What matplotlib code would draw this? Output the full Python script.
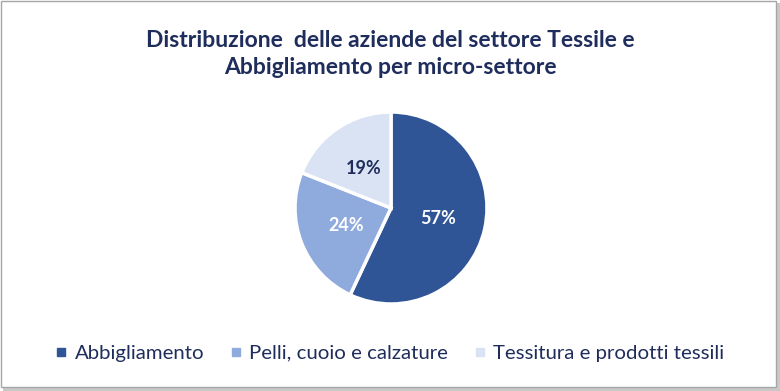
import matplotlib
matplotlib.use("Agg")
import matplotlib.pyplot as plt
from matplotlib.lines import Line2D
from matplotlib.patches import Rectangle

categories = ["Abbigliamento", "Pelli, cuoio e calzature", "Tessitura e prodotti tessili"]
values = [57, 24, 19]
colors = ["#2F5597", "#8FAADC", "#DAE3F3"]
label_colors = ["white", "white", "#1F2D5C"]
title = "Distribuzione  delle aziende del settore Tessile e\nAbbigliamento per micro-settore"

W, H = 780, 391
fig = plt.figure(figsize=(W / 100, H / 100), dpi=100)
fig.patch.set_facecolor("white")

# border with slight shadow
fig.add_artist(Rectangle((3 / W, 0 / H), (W - 3) / W, (H - 3) / H, transform=fig.transFigure,
                         facecolor="#C8C8C8", edgecolor="none", zorder=-3))
fig.add_artist(Rectangle((0.5 / W, 4 / H), (W - 5) / W, (H - 5) / H, transform=fig.transFigure,
                         facecolor="white", edgecolor="#A6A6A6", linewidth=1.0, zorder=-2))

font = "Lato"
text_color = "#1F2D5C"

fig.text(0.5, 1 - 54 / H, title, ha="center", va="center", fontsize=16.5,
         fontweight="bold", color=text_color, family=font, linespacing=1.35)

cx, cy, r = 391, 208, 96
ax = fig.add_axes([(cx - r) / W, 1 - (cy + r) / H, 2 * r / W, 2 * r / H])
wedges, texts, autotexts = ax.pie(values, colors=colors, startangle=90, counterclock=False,
                                  autopct="%1.0f%%", pctdistance=0.5,
                                  wedgeprops=dict(edgecolor="white", linewidth=2.5),
                                  radius=1.0)
for t, c in zip(autotexts, label_colors):
    t.set_color(c)
    t.set_fontsize(13)
    t.set_fontweight("bold")
    t.set_family(font)
ax.set_xlim(-1.0, 1.0)
ax.set_ylim(-1.0, 1.0)
ax.set_aspect("equal")
ax.axis("off")

handles = [Line2D([0], [0], marker="s", linestyle="none", markersize=6,
                  markerfacecolor=c, markeredgecolor=c) for c in colors]
leg = fig.legend(handles, categories, loc="center", bbox_to_anchor=(0.5, 1 - 353 / H),
                 ncol=3, frameon=False, handlelength=0.5, handletextpad=0.4,
                 columnspacing=1.3, prop=dict(family=font, size=14.7))
for t in leg.get_texts():
    t.set_color(text_color)

fig.savefig("out.png", dpi=100, facecolor="white")
